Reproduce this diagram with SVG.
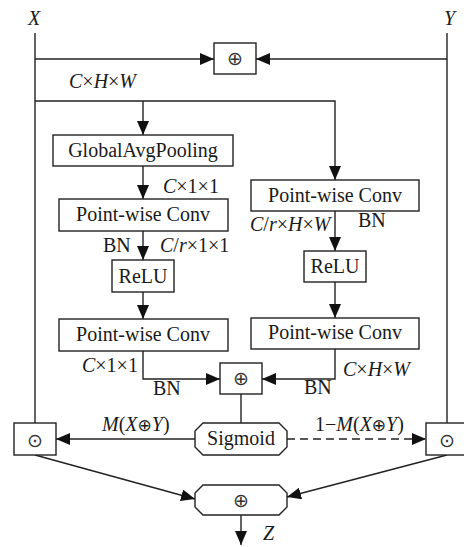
<svg xmlns="http://www.w3.org/2000/svg" width="464" height="547" viewBox="0 0 464 547">
<style>
.box{fill:#fff;stroke:#222;stroke-width:1.4}
.ln{fill:none;stroke:#222;stroke-width:1.4}
.t{font-family:"Liberation Serif","Times New Roman",serif;font-size:20px;fill:#1a1a1a}
.c{text-anchor:middle}
.i{font-style:italic}
.sym{font-family:"DejaVu Sans",sans-serif;font-size:19px;fill:#333;text-anchor:middle}
</style>
<defs>
<marker id="a" markerUnits="userSpaceOnUse" markerWidth="14" markerHeight="12" refX="14" refY="6" orient="auto">
<path d="M0,0 L14,6 L0,12 z" fill="#111"/>
</marker>
</defs>
<rect width="464" height="547" fill="#fff"/>
<g id="connectors">
<line class="ln" x1="35" y1="33" x2="35" y2="423"/>
<line class="ln" x1="447" y1="33" x2="447" y2="423"/>
<line class="ln" x1="35" y1="59" x2="214" y2="59" marker-end="url(#a)"/>
<line class="ln" x1="447" y1="59" x2="256" y2="59" marker-end="url(#a)"/>
<polyline class="ln" points="35,101 335,101 335,180" marker-end="url(#a)"/>
<line class="ln" x1="143" y1="101" x2="143" y2="135" marker-end="url(#a)"/>
<line class="ln" x1="143" y1="166" x2="143" y2="199" marker-end="url(#a)"/>
<line class="ln" x1="143" y1="231" x2="143" y2="260" marker-end="url(#a)"/>
<line class="ln" x1="143" y1="292" x2="143" y2="319" marker-end="url(#a)"/>
<polyline class="ln" points="143,351 143,379 220,379" marker-end="url(#a)"/>
<line class="ln" x1="335" y1="211" x2="335" y2="251" marker-end="url(#a)"/>
<line class="ln" x1="335" y1="282" x2="335" y2="318" marker-end="url(#a)"/>
<polyline class="ln" points="335,349 335,379 262,379" marker-end="url(#a)"/>
<line class="ln" x1="241" y1="394" x2="241" y2="423"/>
<line class="ln" x1="195" y1="439" x2="56" y2="439" marker-end="url(#a)"/>
<line class="ln" x1="287" y1="439" x2="426" y2="439" stroke-dasharray="8,5" marker-end="url(#a)"/>
<line class="ln" x1="35" y1="455" x2="195" y2="499" marker-end="url(#a)"/>
<line class="ln" x1="447" y1="455" x2="287" y2="497" marker-end="url(#a)"/>
<line class="ln" x1="241" y1="515" x2="241" y2="545" marker-end="url(#a)"/>
</g>
<g id="labels">
<text class="t i" x="28" y="25">X</text>
<text class="t i" x="444" y="25">Y</text>
<text class="t" x="69" y="88"><tspan class="i">C</tspan>×<tspan class="i">H</tspan>×<tspan class="i">W</tspan></text>
<text class="t" x="163" y="193"><tspan class="i">C</tspan>×1×1</text>
<text class="t" x="103" y="252">BN</text>
<text class="t" x="160" y="252"><tspan class="i">C</tspan>/<tspan class="i">r</tspan>×1×1</text>
<text class="t" x="250" y="231"><tspan class="i">C</tspan>/<tspan class="i">r</tspan>×<tspan class="i">H</tspan>×<tspan class="i">W</tspan></text>
<text class="t" x="358" y="227">BN</text>
<text class="t" x="82" y="372"><tspan class="i">C</tspan>×1×1</text>
<text class="t" x="153" y="395">BN</text>
<text class="t" x="343" y="376"><tspan class="i">C</tspan>×<tspan class="i">H</tspan>×<tspan class="i">W</tspan></text>
<text class="t" x="304" y="394">BN</text>
<text class="t" x="102" y="431"><tspan class="i">M</tspan>(<tspan class="i">X</tspan><tspan font-family="DejaVu Sans" font-size="17">⊕</tspan><tspan class="i">Y</tspan>)</text>
<text class="t" x="315" y="431">1−<tspan class="i">M</tspan>(<tspan class="i">X</tspan><tspan font-family="DejaVu Sans" font-size="17">⊕</tspan><tspan class="i">Y</tspan>)</text>
<text class="t i" x="263" y="540">Z</text>
</g>
<g id="add-top"><rect class="box" x="214" y="43" width="42" height="31"/><text class="sym" x="235" y="65">⊕</text></g>
<g id="gap"><rect class="box" x="53" y="135" width="180" height="31"/><text class="t c" x="143" y="157">GlobalAvgPooling</text></g>
<g id="pwc1"><rect class="box" x="59" y="199" width="169" height="32"/><text class="t c" x="143" y="221">Point-wise Conv</text></g>
<g id="relu1"><rect class="box" x="112" y="260" width="62" height="32"/><text class="t c" x="143" y="283">ReLU</text></g>
<g id="pwc2"><rect class="box" x="59" y="319" width="169" height="32"/><text class="t c" x="143" y="341">Point-wise Conv</text></g>
<g id="pwc3"><rect class="box" x="251" y="180" width="168" height="31"/><text class="t c" x="335" y="202">Point-wise Conv</text></g>
<g id="relu2"><rect class="box" x="304" y="251" width="62" height="31"/><text class="t c" x="335" y="273">ReLU</text></g>
<g id="pwc4"><rect class="box" x="251" y="318" width="168" height="31"/><text class="t c" x="335" y="339">Point-wise Conv</text></g>
<g id="add-mid"><rect class="box" x="220" y="363" width="42" height="31"/><text class="sym" x="241" y="385">⊕</text></g>
<g id="sigmoid"><polygon class="box" points="203,423 279,423 287,431 287,447 279,455 203,455 195,447 195,431"/><text class="t c" x="241" y="445">Sigmoid</text></g>
<g id="mul-left"><rect class="box" x="14" y="423" width="42" height="32"/><text class="sym" x="35" y="447" font-size="24">⊙</text></g>
<g id="mul-right"><rect class="box" x="426" y="423" width="42" height="32"/><text class="sym" x="447" y="447" font-size="24">⊙</text></g>
<g id="add-out"><polygon class="box" points="203,485 279,485 287,493 287,507 279,515 203,515 195,507 195,493"/><text class="sym" x="241" y="507">⊕</text></g>
</svg>
